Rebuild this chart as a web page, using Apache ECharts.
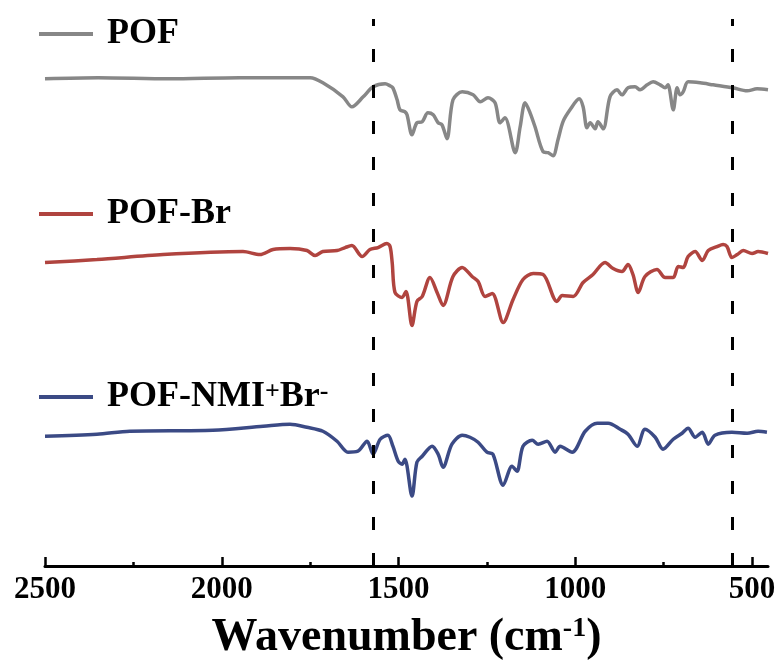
<!DOCTYPE html>
<html><head><meta charset="utf-8">
<script src="https://cdn.jsdelivr.net/npm/echarts@6/dist/echarts.min.js"></script>
<style>html,body{margin:0;padding:0;background:#fff}#c{width:779px;height:666px}</style>
</head><body><div id="c"></div>
<script>
// ---- data (wavenumber in cm^-1, signal in arbitrary offset units) ----
const seriesNames = ['POF', 'POF-Br', 'POF-NMI+Br-'];
const legendLabels = ['POF', 'POF-Br', 'POF-NMI{sup|+}Br{sup|-}'];

const pofWavenumber = [2500,2350,2150,1950,1800,1750,1714,1657,1632,1600,1572,1538,1524,1516,1504,1496,1482,1476,1462,1448,1433,1417,1402,1388,1377,1363,1346,1320,1289,1269,1247,1227,1213,1199,1170,1156,1142,1128,1114,1091,1077,1063,1049,1035,1015,989,978,967,958,944,936,921,902,882,868,851,831,817,797,780,760,746,738,723,712,704,695,681,647,610,554,514,486,455];
const pofSignal = [488,489,488,489,489,489,484,470,460,470,480,483,481,479,467,457,455,452,432,444,445,454,452,444,442,428,467,475,472,465,469,464,444,449,414,440,464,454,440,415,414,411,427,445,457,468,460,439,444,438,445,438,470,477,472,479,480,477,482,485,482,479,482,457,479,472,475,485,484,482,479,476,478,477];

const pofBrWavenumber = [2500,2353,2166,1940,1892,1855,1807,1759,1736,1714,1674,1651,1632,1603,1581,1558,1533,1524,1518,1510,1490,1479,1462,1448,1433,1411,1391,1374,1346,1320,1292,1275,1255,1235,1204,1176,1148,1119,1091,1052,1037,1006,978,950,916,893,868,851,837,822,803,769,746,723,709,695,681,661,641,624,599,582,571,557,542,525,500,483,455];
const pofBrSignal = [304,307,312,315,312,317,318,316,311,315,316,319,321,310,317,319,323,320,304,274,269,275,241,265,270,289,274,261,290,299,290,285,270,273,244,267,287,293,292,265,271,270,284,292,304,298,295,302,292,274,290,297,289,289,300,299,310,315,306,316,320,322,320,309,312,316,313,315,313];

const pofNmiWavenumber = [2500,2353,2260,2025,1883,1807,1759,1714,1674,1643,1615,1589,1572,1552,1530,1516,1501,1490,1482,1462,1448,1433,1405,1388,1374,1349,1320,1298,1275,1250,1233,1204,1179,1165,1148,1122,1105,1080,1057,1043,1009,972,938,907,873,851,825,803,774,752,723,698,681,661,641,624,605,557,514,483,458];
const pofNmiSignal = [130,132,135,136,140,142,139,135,125,114,115,125,112,127,131,120,105,102,107,70,104,110,120,112,99,122,131,129,124,114,112,81,100,95,120,126,122,125,114,120,114,135,143,143,137,132,120,137,129,117,127,133,138,129,134,122,131,134,133,135,134];

const xTickLabels = [2500, 2000, 1500, 1000, 500];
const xMinorTicks = [2250, 1750, 1250, 750];
const markerWavenumbers = [1572, 557];
const xRange = [455, 2500];
const yRange = [0, 567];
const markerTop = 548;

// ---- styles ----
const colors = ['#878787', '#b0443f', '#3b4a85'];
const FONT = "'Liberation Serif', 'Times New Roman', serif";
const zip = (xs, ys) => xs.map((x, i) => [x, ys[i]]);
const seriesData = [zip(pofWavenumber, pofSignal), zip(pofBrWavenumber, pofBrSignal), zip(pofNmiWavenumber, pofNmiSignal)];
const legendTops = [16, 196, 379];

const chart = echarts.init(document.getElementById('c'), null, {renderer: 'canvas'});
const supStyle = {fontFamily: FONT, fontWeight: 'bold', fontSize: 26, color: '#000', verticalAlign: 'top', lineHeight: 24};

const option = {
  backgroundColor: '#fff',
  animation: false,
  grid: {left: 45, right: 11, top: 0, bottom: 99, containLabel: false},
  legend: seriesNames.map((n, i) => ({
    data: [n], left: 39, top: legendTops[i], padding: 0,
    icon: 'rect', itemWidth: 54, itemHeight: 4,
    formatter: () => legendLabels[i],
    textStyle: {fontFamily: FONT, fontWeight: 'bold', fontSize: 36, color: '#000', padding: [0, 0, 0, 9],
      rich: {sup: supStyle}}
  })),
  xAxis: [{
    type: 'value', inverse: true, min: xRange[0], max: xRange[1], position: 'bottom',
    splitLine: {show: false},
    axisLine: {show: true, lineStyle: {color: '#000', width: 3}},
    axisTick: {show: true, inside: true, length: 9, lineStyle: {color: '#000', width: 2.5}, customValues: xTickLabels},
    axisLabel: {show: true, margin: 8, color: '#000', fontFamily: FONT, fontWeight: 'bold', fontSize: 31,
      customValues: xTickLabels, formatter: v => String(v)},
    name: 'Wavenumber (cm{sup|-1})', nameLocation: 'middle', nameGap: 49,
    nameTextStyle: {fontFamily: FONT, fontWeight: 'bold', fontSize: 46, color: '#000',
      rich: {sup: {fontFamily: FONT, fontWeight: 'bold', fontSize: 28, color: '#000', verticalAlign: 'top', lineHeight: 28}}}
  }, {
    type: 'value', inverse: true, min: xRange[0], max: xRange[1], position: 'bottom',
    splitLine: {show: false}, axisLine: {show: false},
    axisTick: {show: true, inside: true, length: 4, lineStyle: {color: '#000', width: 2.5}, customValues: xMinorTicks},
    axisLabel: {show: false}
  }],
  yAxis: {type: 'value', min: yRange[0], max: yRange[1], show: false, splitLine: {show: false}},
  series: seriesNames.map((n, i) => ({
    name: n, type: 'line', data: seriesData[i], showSymbol: false, symbol: 'none',
    smooth: 0.3, color: colors[i],
    lineStyle: {color: colors[i], width: 3.5},
    markLine: i === 0 ? {
      silent: true, symbol: 'none', label: {show: false},
      lineStyle: {color: '#000', width: 3, type: [13, 23]},
      data: markerWavenumbers.map(w => [{coord: [w, yRange[0]]}, {coord: [w, markerTop]}])
    } : undefined
  }))
};
chart.setOption(option);
</script>
</body></html>
